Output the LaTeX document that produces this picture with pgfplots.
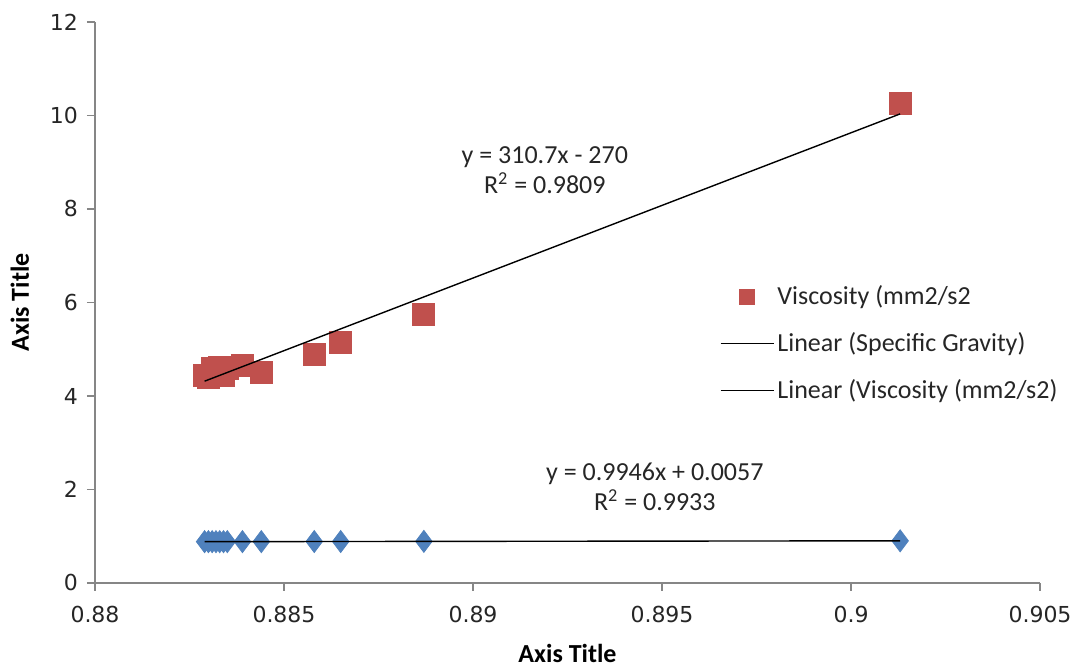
\documentclass[border=0pt]{standalone}
\usepackage{fontspec}
\setmainfont{Carlito}
\newfontfamily\dejavu{DejaVu Sans}
\usepackage{pgfplots}
\pgfplotsset{compat=1.18}
\usetikzlibrary{calc}
\definecolor{xlred}{HTML}{C0504D}
\definecolor{xlblue}{HTML}{4F81BD}
\definecolor{axgray}{HTML}{868686}
\begin{document}
\begin{tikzpicture}
\begin{axis}[
  set layers=standard,
  scale only axis,
  width=472.5pt, height=280.5pt,
  xmin=0.88, xmax=0.905, ymin=0, ymax=12,
  axis x line=bottom, axis y line=left,
  axis line style={-, axgray, line width=0.6pt},
  xtick={0.88,0.885,0.89,0.895,0.9,0.905},
  xticklabels={0.88,0.885,0.89,0.895,0.9,0.905},
  ytick={0,2,4,6,8,10,12},
  yticklabels={0,2,4,6,8,10,12},
  tick align=outside, major tick length=4pt,
  tick style={axgray, line width=0.6pt},
  minor tick num=0,
  ticklabel style={font=\dejavu\fontsize{11}{13}\selectfont, text=black!85},
  xticklabel style={yshift=-4pt},
  yticklabel style={xshift=-1pt},
  /pgf/number format/assume math mode=true,
  xlabel={Axis Title}, ylabel={Axis Title},
  every axis x label/.style={at={(axis description cs:0.5,-0.126)}, anchor=center, font=\bfseries\fontsize{13}{15}\selectfont},
  every axis y label/.style={at={(axis description cs:-0.0794,0.5)}, anchor=center, rotate=90, font=\bfseries\fontsize{13}{15}\selectfont},
  legend image code/.code={\draw[mark repeat=2,mark phase=2,#1] plot coordinates {(0pt,0pt) (13.25pt,0pt) (26.5pt,0pt)};},
  legend style={at={(axis description cs:0.661,0.536)}, anchor=north west, draw=none, fill=none,
    font=\fontsize{13}{15}\selectfont, row sep=9.5pt, inner sep=0pt,
    nodes={inner sep=1.5pt, text=black!85}},
  legend cell align=left,
  clip=false,
]
\coordinate (bl) at (rel axis cs:0,0);
% Specific Gravity (not in legend)
\addplot[only marks, mark=diamond*, mark size=5.5pt, color=xlblue, forget plot] coordinates {
(0.8829,0.884) (0.8830,0.884) (0.8831,0.884) (0.8832,0.884) (0.8833,0.884) (0.8834,0.884)
(0.8835,0.885) (0.8839,0.885) (0.8844,0.885) (0.8858,0.887) (0.8865,0.887) (0.8887,0.890) (0.9013,0.902)
};
% Viscosity
\addplot[only marks, mark=square*, mark size=5.5pt, color=xlred, legend image post style={mark size=3.8pt}] coordinates {
(0.8829,4.45) (0.8830,4.40) (0.8831,4.58) (0.8832,4.55) (0.8833,4.62) (0.8834,4.45) (0.8835,4.60)
(0.8839,4.65) (0.8844,4.50) (0.8858,4.88) (0.8865,5.15) (0.8887,5.75) (0.9013,10.25)
};
\addlegendentry{Viscosity (mm2/s2}
% Linear (Specific Gravity)
\addplot[black, line width=0.7pt, mark=none, on layer=axis foreground] coordinates {(0.8829,0.8838) (0.9013,0.9022)};
\addlegendentry{Linear (Specific Gravity)}
% Linear (Viscosity)
\addplot[black, line width=0.7pt, mark=none, on layer=axis foreground] coordinates {(0.8829,4.317) (0.9013,10.034)};
\addlegendentry{Linear (Viscosity (mm2/s2)}
\node[align=center, font=\fontsize{13}{15}\selectfont, text=black!85] at (axis cs:0.8919,8.83) {y = 310.7x - 270\\R\textsuperscript{2} = 0.9809};
\node[align=center, font=\fontsize{13}{15}\selectfont, text=black!85] at (axis cs:0.89481,2.06) {y = 0.9946x + 0.0057\\R\textsuperscript{2} = 0.9933};
\end{axis}
\pgfresetboundingbox
\path ($(bl)+(-47.5pt,-42pt)$) rectangle ($(bl)+(488pt,291.5pt)$);
\end{tikzpicture}
\end{document}
